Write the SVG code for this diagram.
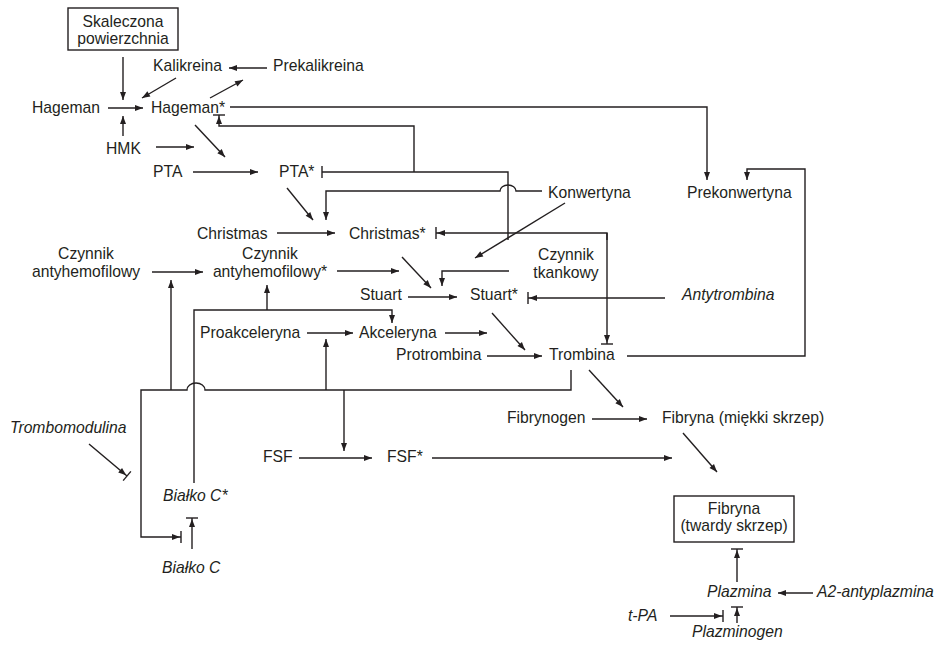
<svg xmlns="http://www.w3.org/2000/svg" width="937" height="647" viewBox="0 0 937 647">
<style>
text{font-family:"Liberation Sans",Arial,sans-serif;font-size:15.7px;fill:#231f20}
.i{font-style:italic}
.m{text-anchor:middle}
.c{fill:none;stroke:#231f20;stroke-width:1.4}
.b{fill:#fff;stroke:#231f20;stroke-width:1.4}
</style>
<defs>
<marker id="a" markerUnits="userSpaceOnUse" markerWidth="10" markerHeight="8" refX="8" refY="3" orient="auto" overflow="visible"><path d="M0,0 L8,3 L0,6 z" fill="#231f20"/></marker>
<marker id="ab" markerUnits="userSpaceOnUse" markerWidth="12" markerHeight="12" refX="9" refY="3" orient="auto" overflow="visible"><path d="M0,0 L8,3 L0,6 z" fill="#231f20"/><path d="M9,-3 V9" stroke="#231f20" stroke-width="1.4"/></marker>
<marker id="bar" markerUnits="userSpaceOnUse" markerWidth="4" markerHeight="12" refX="0" refY="0" orient="auto" overflow="visible"><path d="M0,-6 V6" stroke="#231f20" stroke-width="1.4"/></marker>
</defs>

<g id="connectors" class="c">
<path d="M123,57 V100" marker-end="url(#a)"/>
<path d="M123,136 V116" marker-end="url(#a)"/>
<path d="M108,108 H143" marker-end="url(#a)"/>
<path d="M176,78 L142,98" marker-end="url(#a)"/>
<path d="M267,68 H229" marker-end="url(#a)"/>
<path d="M210,98 L243,80" marker-end="url(#a)"/>
<path d="M156,147 H194" marker-end="url(#a)"/>
<path d="M195,125 L225,157" marker-end="url(#a)"/>
<path d="M230,107 H707 V180" marker-end="url(#a)"/>
<path d="M414,172 V126 H219 V115" marker-end="url(#ab)"/>
<path d="M508,240 V172 H322" marker-end="url(#bar)"/>
<path d="M565,203 L475,258" marker-end="url(#a)"/>
<path d="M542,191 H516 A8,6 0 0 0 500,191 H326 V220" marker-end="url(#a)"/>
<path d="M193,172 H258" marker-end="url(#a)"/>
<path d="M287,188 L313,220" marker-end="url(#a)"/>
<path d="M277,233 H335" marker-end="url(#a)"/>
<path d="M607,240 V233 H436" marker-end="url(#ab)"/>
<path d="M607,233 V344" marker-end="url(#ab)"/>
<path d="M665,298 H528" marker-end="url(#ab)"/>
<path d="M509,271 H442 V286" marker-end="url(#a)"/>
<path d="M402,257 L431,288" marker-end="url(#a)"/>
<path d="M337,271 H399" marker-end="url(#a)"/>
<path d="M152,272 H203" marker-end="url(#a)"/>
<path d="M408,297 H457" marker-end="url(#a)"/>
<path d="M492,313 L525,350" marker-end="url(#a)"/>
<path d="M307,333 H353" marker-end="url(#a)"/>
<path d="M445,333 H487" marker-end="url(#a)"/>
<path d="M487,356 H542" marker-end="url(#a)"/>
<path d="M627,356 H805 V169 H747 V180" marker-end="url(#a)"/>
<path d="M194,483 V310 H392 V323" marker-end="url(#a)"/>
<path d="M267,310 V285" marker-end="url(#a)"/>
<path d="M571,370 V390 H205 A9,7 0 0 0 187,390 H141 V537 H181" marker-end="url(#ab)"/>
<path d="M171,390 V280" marker-end="url(#a)"/>
<path d="M326,390 V339" marker-end="url(#a)"/>
<path d="M344,390 V451" marker-end="url(#a)"/>
<path d="M589,370 L623,407" marker-end="url(#a)"/>
<path d="M592,419 H647" marker-end="url(#a)"/>
<path d="M683,433 L717,472" marker-end="url(#a)"/>
<path d="M299,458 H372" marker-end="url(#a)"/>
<path d="M432,458 H672" marker-end="url(#a)"/>
<path d="M89,444 L127,476" marker-end="url(#ab)"/>
<path d="M192,549 V518" marker-end="url(#ab)"/>
<path d="M737,582 V549" marker-end="url(#ab)"/>
<path d="M813,593 H778" marker-end="url(#a)"/>
<path d="M670,616 H723" marker-end="url(#ab)"/>
<path d="M737,623 V607" marker-end="url(#ab)"/>
</g>

<g id="skaleczona"><rect class="b" x="68" y="8" width="110" height="42"/><text class="m" x="123" y="27">Skaleczona</text><text class="m" x="123" y="44">powierzchnia</text></g>
<g id="kalikreina"><text x="153" y="71">Kalikreina</text></g>
<g id="prekalikreina"><text x="273" y="71">Prekalikreina</text></g>
<g id="hageman"><text x="32" y="113">Hageman</text></g>
<g id="hageman-a"><text x="151" y="113">Hageman*</text></g>
<g id="hmk"><text x="106" y="154">HMK</text></g>
<g id="pta"><text x="153" y="177">PTA</text></g>
<g id="pta-a"><text x="279" y="177">PTA*</text></g>
<g id="konwertyna"><text x="548" y="198">Konwertyna</text></g>
<g id="prekonwertyna"><text x="687" y="198">Prekonwertyna</text></g>
<g id="christmas"><text x="197" y="239">Christmas</text></g>
<g id="christmas-a"><text x="349" y="239">Christmas*</text></g>
<g id="antyhem"><text class="m" x="86" y="259">Czynnik</text><text class="m" x="86" y="277">antyhemofilowy</text></g>
<g id="antyhem-a"><text class="m" x="270" y="259">Czynnik</text><text class="m" x="270" y="277">antyhemofilowy*</text></g>
<g id="tkankowy"><text class="m" x="566" y="260">Czynnik</text><text class="m" x="566" y="278">tkankowy</text></g>
<g id="stuart"><text x="360" y="300">Stuart</text></g>
<g id="stuart-a"><text x="470" y="300">Stuart*</text></g>
<g id="antytrombina"><text class="i" x="682" y="300">Antytrombina</text></g>
<g id="proakceleryna"><text x="200" y="338">Proakceleryna</text></g>
<g id="akceleryna"><text x="359" y="338">Akceleryna</text></g>
<g id="protrombina"><text x="396" y="360">Protrombina</text></g>
<g id="trombina"><text x="549" y="360">Trombina</text></g>
<g id="fibrynogen"><text x="507" y="423">Fibrynogen</text></g>
<g id="fibryna-m"><text x="662" y="423">Fibryna (miękki skrzep)</text></g>
<g id="fsf"><text x="263" y="462">FSF</text></g>
<g id="fsf-a"><text x="387" y="462">FSF*</text></g>
<g id="trombomodulina"><text class="i" x="10" y="433">Trombomodulina</text></g>
<g id="bialko-c-a"><text class="i" x="163" y="501">Białko C*</text></g>
<g id="bialko-c"><text class="i" x="162" y="573">Białko C</text></g>
<g id="fibryna-t"><rect class="b" x="674" y="496" width="120" height="46"/><text class="m" x="734" y="514">Fibryna</text><text class="m" x="734" y="531">(twardy skrzep)</text></g>
<g id="plazmina"><text class="i" x="707" y="597">Plazmina</text></g>
<g id="a2"><text class="i" x="817" y="597">A2-antyplazmina</text></g>
<g id="tpa"><text class="i" x="628" y="621">t-PA</text></g>
<g id="plazminogen"><text class="i" x="692" y="637">Plazminogen</text></g>
</svg>
